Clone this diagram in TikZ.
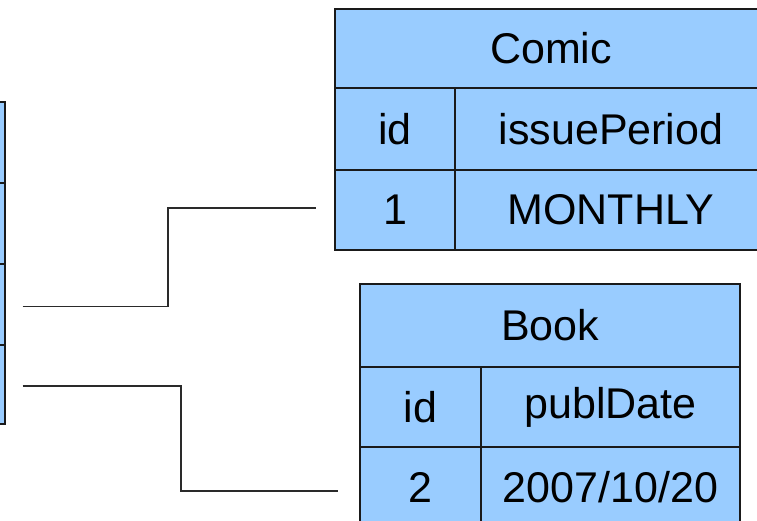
\documentclass[tikz,border=0pt]{standalone}
\usepackage{fontspec}
\setmainfont{Liberation Sans}
\definecolor{cellblue}{HTML}{99CCFF}
\definecolor{rule}{HTML}{1A1A1A}
\definecolor{wire}{HTML}{2A2A2A}
\begin{document}
\begin{tikzpicture}[x=1pt,y=-1pt,
  cell/.style={draw=rule, fill=cellblue, line width=1.4pt, inner sep=0pt,
    font=\fontsize{43}{50}\selectfont, text=black},
  link/.style={draw=wire, line width=1.6pt}]
\useasboundingbox (0,0) rectangle (757,521);
\clip (0,0) rectangle (757,521);

% parent table, mostly off to the left
\node[cell, minimum width=105pt, minimum height=81pt] (L1) at (-47.5,142.5) {};
\node[cell, minimum width=105pt, minimum height=81pt] (L2) at (-47.5,223.5) {};
\node[cell, minimum width=105pt, minimum height=81pt] (L3) at (-47.5,304.5) {};
\node[cell, minimum width=105pt, minimum height=79pt] (L4) at (-47.5,384.5) {};

% Comic table
\node[cell, minimum width=432pt, minimum height=79pt] (ch) at (551,48.5) {Comic};
\node[cell, minimum width=120pt, minimum height=82pt] (cid) at (395,129) {id};
\node[cell, minimum width=312pt, minimum height=82pt] (cper) at (611,129) {issuePeriod};
\node[cell, minimum width=120pt, minimum height=80pt] (c1) at (395,210) {1};
\node[cell, minimum width=312pt, minimum height=80pt] (cval) at (611,210) {MONTHLY};

% Book table
\node[cell, minimum width=380pt, minimum height=83pt] (bh) at (550,325.5) {Book};
\node[cell, minimum width=121pt, minimum height=80pt] (bid) at (420.5,407) {id};
\node[cell, minimum width=259pt, minimum height=80pt] (bdate) at (610.5,407) {publDate};
\node[cell, minimum width=121pt, minimum height=81pt] (b2) at (420.5,487.5) {2};
\node[cell, minimum width=259pt, minimum height=81pt] (bval) at (610.5,487.5) {2007/10/20};

% connector ends and bends
\coordinate (s1) at ([xshift=17pt,yshift=-2pt]L3.east);
\coordinate (e1) at ([xshift=-18pt,yshift=2pt]c1.west);
\coordinate (k1) at (168,250);
\coordinate (s2) at ([xshift=17pt,yshift=-1.5pt]L4.east);
\coordinate (e2) at ([xshift=-21pt,yshift=-3.5pt]b2.west);
\coordinate (k2) at (181,430);

\draw[link] (s1) -- (s1 -| k1) -- (e1 -| k1) -- (e1);
\draw[link] (s2) -- (s2 -| k2) -- (e2 -| k2) -- (e2);
\end{tikzpicture}
\end{document}
